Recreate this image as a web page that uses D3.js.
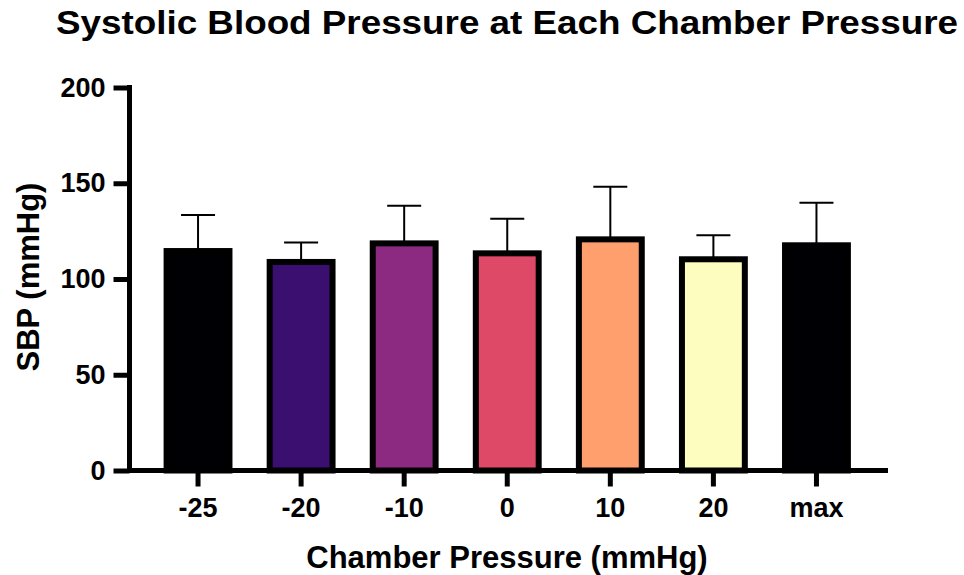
<!DOCTYPE html>
<html>
<head>
<meta charset="utf-8">
<script src="https://cdn.jsdelivr.net/npm/d3@7"></script>
<style>
  html, body { margin: 0; padding: 0; background: #fff; }
  svg { display: block; font-family: "Liberation Sans", Arial, Helvetica, sans-serif; font-weight: bold; }
</style>
</head>
<body>
<svg id="chart" width="964" height="575"></svg>
<script>
// Chamber pressure settings and mean systolic blood pressure (mmHg) with SD
const categories = ["-25", "-20", "-10", "0", "10", "20", "max"];
const meanSBP = [114.6, 108.9, 118.6, 113.4, 120.7, 110.3, 117.6];
const sdSBP = [18.8, 10.1, 19.7, 18.1, 27.5, 12.5, 22.2];
const barColors = ["#000004", "#3b0f70", "#8c2981", "#de4968", "#fe9f6d", "#fcfdbf", "#000004"];
const yTicks = [0, 50, 100, 150, 200];

const svg = d3.select("#chart");

const y = d3.scaleLinear().domain([0, 200]).range([470.5, 87.5]);
const x = d3.scaleBand()
  .domain(categories)
  .range([146.5, 868])
  .paddingInner(0.39)
  .paddingOuter(0.195);

const data = categories.map((c, i) => ({ cat: c, mean: meanSBP[i], sd: sdSBP[i], color: barColors[i] }));

// Error bars (upper SD only), drawn under the bars
const err = svg.append("g").attr("class", "errors");
err.selectAll("line.stem").data(data).join("line")
  .attr("class", "stem")
  .attr("x1", d => x(d.cat) + x.bandwidth() / 2)
  .attr("x2", d => x(d.cat) + x.bandwidth() / 2)
  .attr("y1", d => y(d.mean))
  .attr("y2", d => y(d.mean + d.sd))
  .attr("stroke", "#000").attr("stroke-width", 2);
err.selectAll("line.cap").data(data).join("line")
  .attr("class", "cap")
  .attr("x1", d => x(d.cat) + x.bandwidth() / 2 - 17)
  .attr("x2", d => x(d.cat) + x.bandwidth() / 2 + 17)
  .attr("y1", d => y(d.mean + d.sd))
  .attr("y2", d => y(d.mean + d.sd))
  .attr("stroke", "#000").attr("stroke-width", 2);

// Bars
svg.append("g").selectAll("rect").data(data).join("rect")
  .attr("x", d => x(d.cat))
  .attr("width", x.bandwidth())
  .attr("y", d => y(d.mean))
  .attr("height", d => y(0) - y(d.mean))
  .attr("fill", d => d.color)
  .attr("stroke", "#000")
  .attr("stroke-width", 6);

// Y axis
const yAxis = svg.append("g")
  .attr("transform", "translate(129.5,0)")
  .call(d3.axisLeft(y).tickValues(yTicks).tickSize(16).tickSizeOuter(0).tickPadding(8));
yAxis.select(".domain").attr("stroke-width", 5).attr("d", `M0,${y(200) - 2.5}V${y(0)}`);
yAxis.selectAll(".tick line").attr("stroke-width", 5);
yAxis.selectAll(".tick text")
  .attr("font-size", 27).attr("font-family", "Liberation Sans, Arial, sans-serif")
  .attr("font-weight", "bold").attr("fill", "#000");

// X axis
const xAxis = svg.append("g")
  .attr("transform", "translate(0,470.5)")
  .call(d3.axisBottom(x).tickSize(16).tickSizeOuter(0).tickPadding(11));
xAxis.select(".domain").remove();
xAxis.append("line")
  .attr("x1", 127).attr("x2", 888).attr("y1", 0).attr("y2", 0)
  .attr("stroke", "#000").attr("stroke-width", 5);
xAxis.selectAll(".tick line").attr("stroke-width", 5);
xAxis.selectAll(".tick text")
  .attr("font-size", 27).attr("font-family", "Liberation Sans, Arial, sans-serif")
  .attr("font-weight", "bold").attr("fill", "#000");

// Titles
svg.append("text")
  .attr("x", 507).attr("y", 34)
  .attr("text-anchor", "middle")
  .attr("font-size", 33)
  .attr("textLength", 902).attr("lengthAdjust", "spacingAndGlyphs")
  .text("Systolic Blood Pressure at Each Chamber Pressure");

svg.append("text")
  .attr("x", 507).attr("y", 568)
  .attr("text-anchor", "middle")
  .attr("font-size", 31)
  .text("Chamber Pressure (mmHg)");

svg.append("text")
  .attr("transform", "translate(39,277) rotate(-90)")
  .attr("text-anchor", "middle")
  .attr("font-size", 31)
  .text("SBP (mmHg)");
</script>
</body>
</html>
